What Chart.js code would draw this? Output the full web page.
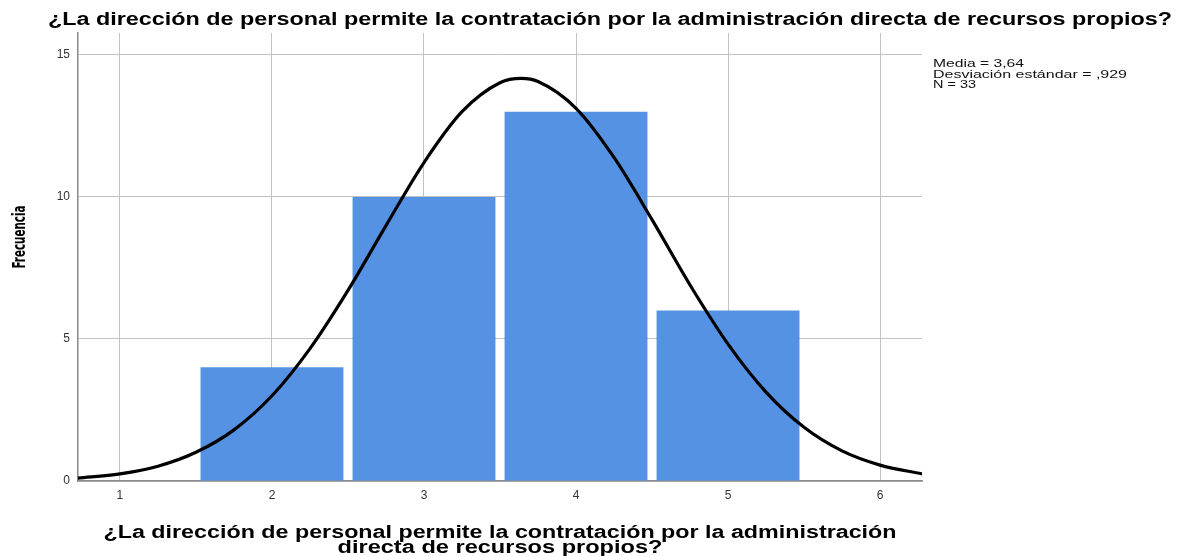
<!DOCTYPE html>
<html>
<head>
<meta charset="utf-8">
<script src="https://cdn.jsdelivr.net/npm/chart.js@4/dist/chart.umd.min.js"></script>
<style>
  body { margin: 0; background: #fff; }
  canvas { display: block; }
</style>
</head>
<body>
<canvas id="chart" width="1177" height="556"></canvas>
<script>
// histogram values
const categories = [2, 3, 4, 5];
const frequencies = [4, 10, 13, 6];

// normal curve
const curveX = [0.72, 1.0, 1.25, 1.5, 1.75, 2.0, 2.25, 2.5, 2.75, 3.0, 3.25, 3.5, 3.64, 3.75, 4.0, 4.25, 4.5, 4.75, 5.0, 5.25, 5.5, 5.75, 6.0, 6.28];
const curveY = [0.10, 0.25, 0.52, 1.01, 1.80, 3.00, 4.66, 6.71, 8.99, 11.21, 13.00, 14.02, 14.17, 14.06, 13.12, 11.39, 9.20, 6.90, 4.82, 3.13, 1.89, 1.06, 0.56, 0.25];

const xTicks = [1, 2, 3, 4, 5, 6];
const yTicks = [0, 5, 10, 15];

const title = '¿La dirección de personal permite la contratación por la administración directa de recursos propios?';
const xTitle = ['¿La dirección de personal permite la contratación por la administración', 'directa de recursos propios?'];
const yTitle = 'Frecuencia';
const stats = ['Media = 3,64', 'Desviación estándar = ,929', 'N = 33'];

// draws text stretched/squeezed to a given width
function fitText(ctx, text, x, y, width, align) {
    const w = ctx.measureText(text).width;
    ctx.save();
    ctx.translate(x, y);
    ctx.scale(width / w, 1);
    ctx.textAlign = align || 'center';
    ctx.fillText(text, 0, 0);
    ctx.restore();
}

const textPlugin = {
    id: 'texts',
    afterDraw(chart) {
        const ctx = chart.ctx;
        ctx.save();
        ctx.fillStyle = '#000';
        ctx.textBaseline = 'alphabetic';

        ctx.font = 'bold 18px "Liberation Sans", Arial, sans-serif';
        fitText(ctx, title, 610, 25, 1124);

        ctx.font = 'bold 18px "Liberation Sans", Arial, sans-serif';
        fitText(ctx, xTitle[0], 500, 538, 793);
        fitText(ctx, xTitle[1], 500, 553, 325);

        ctx.save();
        ctx.translate(25, 237);
        ctx.rotate(-Math.PI / 2);
        ctx.font = 'bold 18px "Liberation Sans Narrow", "DejaVu Sans Condensed", sans-serif';
        fitText(ctx, yTitle, 0, 0, 63);
        ctx.restore();

        ctx.font = '11px "Liberation Sans", Arial, sans-serif';
        ctx.fillStyle = '#111';
        const widths = [91, 194, 43];
        stats.forEach((s, i) => {
            fitText(ctx, s, 933, 67 + i * 10.5, widths[i], 'left');
        });
        ctx.restore();
    }
};

const ctx = document.getElementById('chart').getContext('2d');
new Chart(ctx, {
    type: 'bar',
    data: {
        datasets: [
            {
                type: 'line',
                data: curveX.map((x, i) => ({ x: x, y: curveY[i] })),
                borderColor: '#000',
                borderWidth: 3.2,
                pointRadius: 0,
                cubicInterpolationMode: 'monotone',
                fill: false,
                order: 0,
            },
            {
                type: 'bar',
                data: categories.map((c, i) => ({ x: c, y: frequencies[i] })),
                backgroundColor: '#5692E3',
                borderWidth: 0,
                barPercentage: 0.94,
                categoryPercentage: 1,
                order: 1,
            },
        ],
    },
    options: {
        responsive: false,
        animation: false,
        layout: { padding: { top: 33, right: 255, left: 0, bottom: 0 } },
        plugins: {
            legend: { display: false },
            tooltip: { enabled: false },
        },
        scales: {
            x: {
                type: 'linear',
                offset: false,
                min: 0.724,
                max: 6.276,
                afterBuildTicks: (scale) => { scale.ticks = xTicks.map(v => ({ value: v })); },
                afterFit: (scale) => { scale.height = 75; },
                ticks: {
                    includeBounds: false,
                    padding: 7,
                    color: '#333',
                    font: { family: '"Liberation Sans", Arial, sans-serif', size: 12 },
                    maxRotation: 0,
                },
                grid: { color: '#c2c2c2', drawTicks: false, offset: false },
                border: { color: '#8a8a8a', width: 1.5 },
            },
            y: {
                min: 0,
                max: 15.77,
                afterBuildTicks: (scale) => { scale.ticks = yTicks.map(v => ({ value: v })); },
                afterFit: (scale) => { scale.width = 78; },
                ticks: {
                    includeBounds: false,
                    padding: 8,
                    color: '#333',
                    font: { family: '"Liberation Sans", Arial, sans-serif', size: 12 },
                },
                grid: { color: '#c2c2c2', drawTicks: false },
                border: { color: '#8a8a8a', width: 1.5 },
            },
        },
    },
    plugins: [textPlugin],
});
</script>
</body>
</html>
